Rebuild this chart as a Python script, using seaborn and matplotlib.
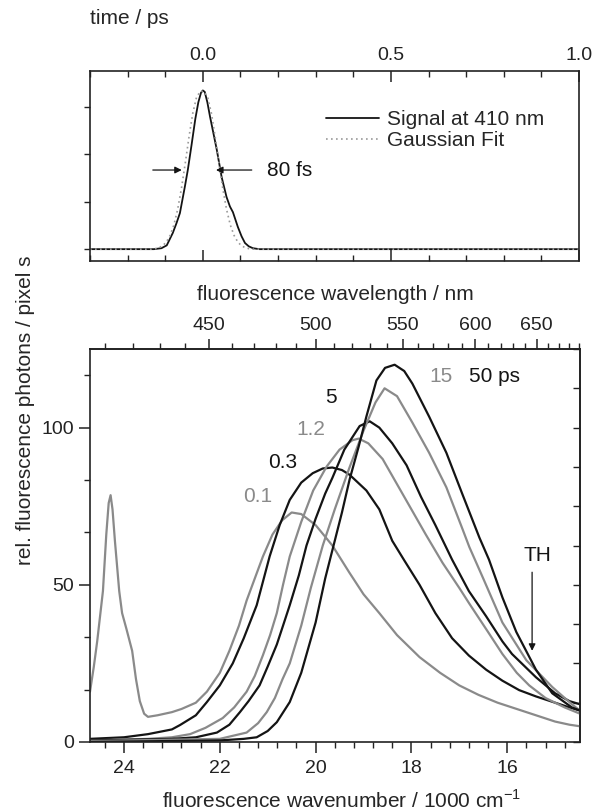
import numpy as np
import pandas as pd
import matplotlib
matplotlib.use("Agg")
import matplotlib.pyplot as plt
import seaborn as sns
from matplotlib.ticker import MultipleLocator, FixedLocator, FormatStrFormatter, NullFormatter

sns.set_theme(style="ticks")
plt.rcParams['font.family'] = ['Liberation Sans', 'DejaVu Sans']
plt.rcParams['mathtext.fontset'] = 'custom'
plt.rcParams['mathtext.rm'] = 'Liberation Sans'

# ---------------- data: top panel (cross-correlation) ----------------
time_ps = [-0.30, -0.20, -0.13, -0.11, -0.096, -0.080, -0.070, -0.061, -0.048, -0.040,
           -0.030, -0.020, -0.012, -0.005, 0.000, 0.005, 0.012, 0.019, 0.028, 0.037,
           0.050, 0.063, 0.072, 0.080, 0.093, 0.103, 0.112, 0.122, 0.133, 0.150,
           0.30, 0.50, 0.70, 1.00]
signal_410 = [0.0, 0.0, 0.0, 0.02, 0.08, 0.34, 0.55, 0.76, 1.31, 1.67,
              2.20, 2.75, 3.10, 3.30, 3.35, 3.32, 3.10, 2.80, 2.45, 2.10,
              1.52, 1.10, 0.90, 0.78, 0.47, 0.27, 0.13, 0.06, 0.02, 0.0,
              0.0, 0.0, 0.0, 0.0]

fit_time = [-0.30, -0.137, -0.127, -0.117, -0.107, -0.097, -0.087, -0.077, -0.067, -0.057,
            -0.047, -0.037, -0.027, -0.017, -0.007, 0.003, 0.013, 0.023, 0.033, 0.043,
            0.053, 0.063, 0.073, 0.083, 0.093, 0.103, 0.113, 0.123, 0.133, 0.143, 1.00]
fit_vals = [0.0, 0.0, 0.01, 0.03, 0.07, 0.15, 0.29, 0.51, 0.84, 1.28,
            1.80, 2.36, 2.86, 3.20, 3.33, 3.33, 3.20, 2.86, 2.36, 1.80,
            1.28, 0.84, 0.51, 0.29, 0.15, 0.07, 0.03, 0.01, 0.0, 0.0, 0.0]

# ---------------- data: bottom panel (fluorescence spectra) ----------------
delays = ["0.1", "0.3", "1.2", "5", "15", "50 ps"]

wn_01 = [24.71, 24.63, 24.56, 24.50, 24.44, 24.37, 24.32, 24.28, 24.24, 24.19, 24.10, 24.04,
         23.95, 23.83, 23.75, 23.67, 23.58, 23.50, 23.30, 23.00, 22.80, 22.50, 22.27, 22.00,
         21.80, 21.60, 21.44, 21.27, 21.10, 20.90, 20.70, 20.50, 20.30, 20.00, 19.65, 19.30,
         19.00, 18.67, 18.30, 17.83, 17.40, 17.00, 16.60, 16.20, 15.80, 15.40, 15.00, 14.70, 14.48]
I_01 = [16, 24, 32, 40, 48, 66, 76, 78.5, 74, 64, 48, 41,
        36, 29, 20, 13, 9, 8, 8.5, 9.5, 10.5, 12.5, 16, 22,
        29, 37, 45, 52, 59, 66, 70.5, 73, 72.5, 69, 62.5, 54,
        47, 41, 34, 27, 22, 18, 15, 12.5, 10.5, 8.5, 6.5, 5.5, 5]

wn_03 = [24.71, 24.00, 23.50, 23.00, 22.83, 22.50, 22.27, 22.00, 21.73, 21.50, 21.23, 20.96,
         20.75, 20.54, 20.30, 20.06, 19.85, 19.65, 19.45, 19.29, 18.94, 18.67, 18.40, 18.15,
         17.83, 17.50, 17.15, 16.80, 16.44, 16.10, 15.75, 15.40, 15.00, 14.70, 14.48]
I_03 = [1, 1.5, 2.5, 4, 5.4, 8.5, 12.7, 18, 25, 33, 43.5, 59,
        69, 77, 82.5, 85.5, 87, 87.3, 86.5, 85, 80, 74, 64, 57.8,
        50, 41, 33, 27.5, 23, 19.5, 16.5, 14.5, 12.5, 11, 10]

wn_12 = [24.71, 23.50, 23.00, 22.62, 22.30, 21.94, 21.70, 21.44, 21.27, 21.10, 20.95, 20.81,
         20.68, 20.54, 20.30, 20.05, 19.77, 19.50, 19.23, 19.10, 18.90, 18.60, 18.30, 18.00,
         17.70, 17.35, 17.00, 16.79, 16.40, 16.10, 15.80, 15.54, 15.20, 14.80, 14.48]
I_12 = [0.5, 1, 1.5, 2.5, 4.5, 7.6, 11, 16, 21, 27.6, 34, 41,
        50, 59, 70, 80, 87.6, 93, 96, 96.5, 95, 90, 82, 74,
        66, 57, 49, 44, 35, 28, 22, 18, 14, 11, 9]

wn_5 = [24.71, 23.00, 22.50, 22.06, 21.80, 21.58, 21.40, 21.17, 21.00, 20.81, 20.68, 20.54,
        20.35, 20.19, 20.00, 19.80, 19.65, 19.40, 19.08, 18.87, 18.67, 18.40, 18.10, 17.80,
        17.50, 17.15, 16.80, 16.44, 16.10, 15.90, 15.40, 15.00, 14.70, 14.48]
I_5 = [0.5, 1, 1.5, 3, 5.5, 9.5, 13, 18, 24, 31, 37, 43.5,
       53, 62.5, 71, 79, 84, 93, 100.5, 102, 100, 95, 88, 78,
       69, 58, 48, 40, 32, 28, 20.6, 15.5, 13, 12]

wn_15 = [24.71, 22.00, 21.44, 21.20, 21.02, 20.85, 20.69, 20.54, 20.30, 20.10, 19.85, 19.60,
         19.30, 19.00, 18.75, 18.56, 18.30, 17.98, 17.63, 17.27, 16.94, 16.79, 16.50, 16.10,
         15.60, 15.06, 14.65, 14.48]
I_15 = [0.3, 1, 3, 6, 9.5, 14, 20, 25, 37, 49, 62.5, 74,
        87, 99, 108, 112.5, 110, 101.6, 92, 81, 68, 62, 52, 38,
        26, 17.5, 12, 10]

wn_50 = [24.71, 22.00, 21.50, 21.23, 21.00, 20.81, 20.54, 20.30, 20.00, 19.80, 19.65, 19.45,
         19.29, 19.10, 18.94, 18.73, 18.55, 18.35, 18.15, 17.98, 17.63, 17.27, 16.94, 16.58,
         16.38, 16.10, 15.81, 15.40, 15.06, 14.65, 14.48]
I_50 = [0, 0.5, 1, 1.5, 3.5, 6.3, 12.7, 22, 38, 52, 61, 73,
        83.5, 94, 103.5, 115, 119, 120, 118, 114, 103.5, 92, 79, 65,
        58, 46, 35, 23, 15.5, 11, 10]

wavelength_ticks = [450, 500, 550, 600, 650]

GRAY = "#8a8a8a"
BLACK = "#141414"
colors = {"0.1": GRAY, "0.3": BLACK, "1.2": GRAY, "5": BLACK, "15": GRAY, "50 ps": BLACK}

frames = []
for name, wn, inten in zip(delays, [wn_01, wn_03, wn_12, wn_5, wn_15, wn_50],
                           [I_01, I_03, I_12, I_5, I_15, I_50]):
    frames.append(pd.DataFrame({"wn": wn, "I": inten, "delay": name}))
spec = pd.concat(frames, ignore_index=True)

# ---------------- figure ----------------
W, H = 599, 810
fig = plt.figure(figsize=(W / 100, H / 100), dpi=100)
ax1 = fig.add_axes([90 / W, 1 - 261 / H, 489 / W, 190 / H])
ax2 = fig.add_axes([90 / W, 1 - 742 / H, 490 / W, 393 / H])

LAB = 15
TICK = 14

# ---- top panel ----
sns.lineplot(x=time_ps, y=signal_410, ax=ax1, color=BLACK, lw=1.3,
             label="Signal at 410 nm", sort=False, estimator=None)
sns.lineplot(x=fit_time, y=fit_vals, ax=ax1, color="#9a9a9a", lw=1.2,
             linestyle=(0, (1, 2)), label="Gaussian Fit", sort=False, estimator=None)
ax1.set_xlim(-0.3, 1.0)
ax1.set_ylim(-0.25, 3.76)
ax1.xaxis.set_major_locator(MultipleLocator(0.5))
ax1.xaxis.set_minor_locator(MultipleLocator(0.1))
ax1.xaxis.set_major_formatter(FormatStrFormatter("%.1f"))
ax1.tick_params(axis="x", which="both", direction="in", top=True, bottom=True,
                labeltop=True, labelbottom=False, labelsize=TICK, pad=5, colors="#222222")
ax1.tick_params(axis="x", which="major", length=8, width=1.1)
ax1.tick_params(axis="x", which="minor", length=4, width=1.0)
ax1.set_yticks([0, 1, 2, 3])
ax1.yaxis.set_major_formatter(NullFormatter())
ax1.tick_params(axis="y", which="major", direction="out", length=4, width=1.0, colors="#222222")
ax1.xaxis.set_label_position("top")
ax1.set_xlabel("time / ps", fontsize=LAB)
ax1.xaxis.set_label_coords(0.0, (261 - 18) / 190)
ax1.xaxis.label.set_ha("left")
ax1.xaxis.label.set_va("center")
ax1.set_ylabel("")
leg = ax1.legend(loc="upper left", bbox_to_anchor=(0.483, 0.795), frameon=False, fontsize=LAB,
                 handlelength=2.55, handletextpad=0.35, labelspacing=0.12,
                 borderaxespad=0, borderpad=0)
arrow_kw = dict(arrowstyle="-|>", color=BLACK, lw=0.9, mutation_scale=10, shrinkA=0, shrinkB=0)
ax1.annotate("", xy=(-0.056, 1.67), xytext=(-0.133, 1.67), arrowprops=arrow_kw)
ax1.annotate("", xy=(0.035, 1.67), xytext=(0.130, 1.67), arrowprops=arrow_kw)
ax1.text(0.170, 1.67, "80 fs", fontsize=LAB, ha="left", va="center", color=BLACK)

# ---- bottom panel ----
sns.lineplot(data=spec, x="wn", y="I", hue="delay", palette=colors, ax=ax2, lw=1.6,
             sort=False, estimator=None, legend=False)
ax2.set_xlim(24.71, 14.48)
ax2.set_ylim(0, 125)
ax2.xaxis.set_major_locator(MultipleLocator(2))
ax2.xaxis.set_minor_locator(MultipleLocator(0.4))
ax2.xaxis.set_major_formatter(FormatStrFormatter("%d"))
ax2.yaxis.set_major_locator(MultipleLocator(50))
ax2.yaxis.set_minor_locator(MultipleLocator(50 / 3))
ax2.tick_params(axis="both", which="major", direction="out", length=8, width=1.1,
                labelsize=TICK, colors="#222222")
ax2.tick_params(axis="both", which="minor", direction="out", length=4, width=1.0, colors="#222222")
ax2.tick_params(axis="x", pad=5)
ax2.tick_params(axis="y", pad=3.5)

ax2.set_xlabel("fluorescence wavenumber / 1000 cm$^{-1}$", fontsize=LAB)
ax2.xaxis.set_label_coords((342 - 90) / 490, (742 - 800) / 393)
ax2.xaxis.label.set_va("center")
ax2.set_ylabel("rel. fluorescence photons / pixel s", fontsize=LAB)
ax2.yaxis.set_label_coords((25 - 90) / 490, (742 - 410) / 393)
ax2.yaxis.label.set_va("center")

def wn2nm(x):
    x = np.asarray(x, dtype=float)
    with np.errstate(divide="ignore", invalid="ignore"):
        return 1e4 / x

secx = ax2.secondary_xaxis("top", functions=(wn2nm, wn2nm))
secx.xaxis.set_major_locator(FixedLocator(wavelength_ticks))
secx.xaxis.set_minor_locator(MultipleLocator(10))
secx.xaxis.set_major_formatter(FormatStrFormatter("%d"))
secx.tick_params(axis="x", which="major", direction="out", length=7, width=1.1,
                 labelsize=TICK, pad=3.5, colors="#222222")
secx.tick_params(axis="x", which="minor", direction="out", length=4, width=1.0, colors="#222222")
fig.text(335 / W, 1 - 295 / H, "fluorescence wavelength / nm", fontsize=LAB,
         ha="center", va="center")

secy = ax2.secondary_yaxis("right")
secy.yaxis.set_major_locator(MultipleLocator(12.5))
secy.yaxis.set_major_formatter(NullFormatter())
secy.tick_params(axis="y", which="major", direction="in", length=5, width=1.0, colors="#222222")

label_pos = {"0.1": (21.21, 78.1), "0.3": (20.69, 88.9), "1.2": (20.10, 99.4),
             "5": (19.67, 109.5), "15": (17.375, 116.2), "50 ps": (16.27, 116.2)}
for name in delays:
    x, y = label_pos[name]
    ax2.text(x, y, name, fontsize=LAB, color=colors[name], ha="center", va="center")

ax2.annotate("", xy=(15.48, 29), xytext=(15.48, 54), arrowprops=arrow_kw)
ax2.text(15.375, 59.4, "TH", fontsize=LAB, ha="center", va="center", color=BLACK)

for ax in (ax1, ax2):
    for s in ax.spines.values():
        s.set_linewidth(1.2)
        s.set_color("#222222")

fig.savefig("out.png", dpi=100)
